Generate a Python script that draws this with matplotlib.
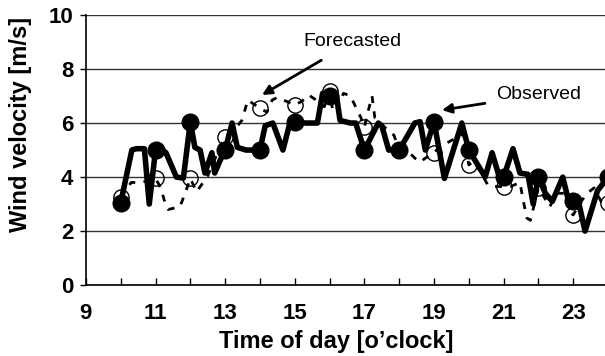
import matplotlib
matplotlib.use('Agg')
import matplotlib.pyplot as plt

# observed wind (thick solid line)
obs_t = [10.0, 10.32, 10.45, 10.68, 10.82, 11.0, 11.2, 11.3, 11.6, 11.8, 12.0, 12.13,
         12.28, 12.42, 12.62, 12.7, 12.85, 13.0, 13.2, 13.35, 13.6, 14.0, 14.15, 14.37,
         14.66, 14.86, 15.0, 15.3, 15.65, 15.8, 16.0, 16.2, 16.3, 16.6, 16.75, 17.0,
         17.4, 17.5, 17.7, 18.0, 18.45, 18.6, 18.75, 19.0, 19.3, 19.8, 20.0, 20.47,
         20.67, 20.9, 21.0, 21.27, 21.47, 21.7, 21.85, 22.0, 22.2, 22.4, 22.7, 22.85,
         23.0, 23.15, 23.34, 23.7, 24.0]
obs_v = [3.05, 5.0, 5.05, 5.05, 3.0, 5.0, 5.0, 4.9, 4.0, 3.96, 6.05, 5.1,
         5.0, 4.15, 4.9, 4.15, 4.6, 5.0, 6.0, 5.1, 5.0, 5.0, 5.9, 6.0,
         5.0, 6.0, 6.05, 6.0, 6.0, 7.1, 7.0, 7.0, 6.1, 6.0, 6.0, 5.0,
         6.0, 5.9, 5.0, 5.0, 6.0, 6.05, 5.0, 6.05, 3.95, 6.0, 5.0, 4.0,
         4.9, 3.9, 4.0, 5.05, 4.15, 4.1, 3.0, 4.0, 3.4, 3.1, 4.0, 3.2,
         3.1, 3.1, 2.0, 3.5, 4.0]

# forecasted wind (dashed line)
fc_t = [10.0, 10.3, 10.6, 11.0, 11.15, 11.25, 11.36, 11.7, 11.85, 12.0, 12.18, 12.5,
        12.75, 13.0, 13.3, 13.48, 13.55, 13.65, 14.0, 14.2, 14.35, 14.5, 15.0, 15.2,
        15.4, 15.67, 15.85, 16.0, 16.1, 16.2, 16.4, 16.6, 16.75, 16.9, 17.0, 17.12,
        17.22, 17.3, 17.7, 17.85, 18.0, 18.3, 18.45, 18.6, 18.75, 19.0, 19.15, 19.7,
        19.85, 20.0, 20.15, 20.55, 20.75, 21.0, 21.2, 21.47, 21.56, 21.67, 21.77, 22.0,
        22.33, 22.5, 22.8, 22.95, 23.0, 23.2, 23.4, 23.6, 23.8, 24.0]
fc_v = [3.25, 3.8, 3.8, 3.95, 3.6, 3.15, 2.8, 2.9, 3.4, 3.95, 3.45, 4.05,
        4.8, 5.5, 5.8, 6.1, 6.4, 6.85, 6.55, 6.4, 6.85, 6.95, 6.67, 6.8,
        7.04, 6.8, 6.6, 7.2, 6.4, 6.5, 7.1, 7.0, 6.6, 6.2, 5.85, 6.5,
        7.0, 6.2, 5.7, 5.55, 5.0, 4.9, 4.7, 4.55, 4.7, 4.9, 5.1, 5.5,
        5.6, 4.45, 4.6, 3.7, 3.65, 3.65, 3.65, 3.8, 3.15, 2.48, 2.4, 3.6,
        2.9, 3.4, 3.4, 2.65, 2.6, 3.05, 3.4, 3.6, 3.1, 3.05]

hours = [10, 11, 12, 13, 14, 15, 16, 17, 18, 19, 20, 21, 22, 23, 24]
obs_hourly = [3.05, 5.0, 6.05, 5.0, 5.0, 6.05, 7.0, 5.0, 5.0, 6.05, 5.0, 4.0, 4.0, 3.1, 4.0]
fc_hourly = [3.25, 3.95, 3.95, 5.5, 6.55, 6.67, 7.2, 5.85, 5.0, 4.9, 4.45, 3.65, 3.6, 2.6, 3.05]

fig = plt.figure(figsize=(6.05, 3.56), dpi=100)
ax = fig.add_axes([0.142, 0.199, 0.863, 0.759])

ax.plot(obs_t, obs_v, color='black', lw=4, solid_joinstyle='round', zorder=3)
ax.plot(fc_t, fc_v, color='black', lw=2, linestyle=(0, (2.5, 3)), zorder=3)
ax.plot(hours, obs_hourly, 'o', color='black', ms=12, zorder=4, clip_on=False)
ax.plot(hours, fc_hourly, 'o', mfc='none', mec='black', mew=1, ms=11, zorder=5,
        clip_on=False)

ax.set_xlim(9, 24)
ax.set_ylim(0, 10)
ax.set_xticks(range(9, 25))
ax.set_xticklabels([str(h) if h % 2 == 1 else '' for h in range(9, 25)])
ax.set_yticks(range(0, 11, 2))
ax.yaxis.grid(True, color='#333333', lw=1)
ax.set_axisbelow(True)
ax.spines['right'].set_visible(False)
ax.spines['top'].set_visible(False)
ax.spines['left'].set_linewidth(1.2)
ax.spines['bottom'].set_linewidth(1.2)
ax.tick_params(axis='x', direction='in', length=5, width=1, pad=13)
ax.tick_params(axis='y', direction='out', length=4, width=1, pad=5)
for lab in ax.get_xticklabels() + ax.get_yticklabels():
    lab.set_fontfamily('Liberation Sans')
    lab.set_fontweight('bold')
    lab.set_fontsize(16)

ax.set_xlabel('Time of day [o\u2019clock]', fontfamily='Liberation Sans',
              fontweight='bold', fontsize=17)
ax.set_ylabel('Wind velocity [m/s]', fontfamily='Liberation Sans',
              fontweight='bold', fontsize=17)
ax.xaxis.set_label_coords(0.479, -0.165)
ax.yaxis.set_label_coords(-0.103, 0.593)

ax.annotate('Forecasted', xy=(14.06, 7.04), xytext=(15.25, 9.0),
            fontfamily='Liberation Sans', fontsize=14, va='center', ha='left',
            arrowprops=dict(arrowstyle='-|>', color='black', lw=2,
                            mutation_scale=14, shrinkA=10, shrinkB=0))
ax.annotate('Observed', xy=(19.23, 6.48), xytext=(20.78, 7.04),
            fontfamily='Liberation Sans', fontsize=14, va='center', ha='left',
            arrowprops=dict(arrowstyle='-|>', color='black', lw=2,
                            mutation_scale=14, shrinkA=6, shrinkB=0))

fig.savefig('out.png', dpi=100)
